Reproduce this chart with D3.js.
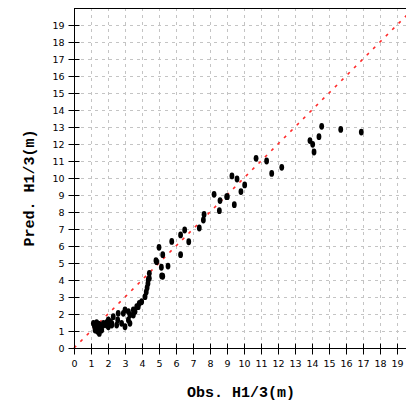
<!DOCTYPE html>
<html lang="en">
<head>
    <meta charset="UTF-8">
    <title>Obs vs Pred H1/3</title>
    <script src="https://d3js.org/d3.v7.min.js"></script>
    <style>
        body { margin: 0; background: white; }
        svg { display: block; }
        .tick-label { font-family: "DejaVu Sans", sans-serif; font-size: 9.5px; fill: black; }
        .title { font-family: "Liberation Mono", "DejaVu Sans Mono", monospace; font-size: 15px; font-weight: bold; fill: black; }
    </style>
</head>
<body>
    <svg width="406" height="404"></svg>

    <script>
        let obs = [
            1.14, 1.33, 1.43, 1.24, 1.49, 1.63, 1.73, 1.92, 2.12, 2.22, 2.02, 1.30, 1.20, 1.38, 1.55, 1.45, 1.28,
            2.31, 2.22, 2.02, 1.92, 1.73, 1.53, 1.43,
            2.60, 2.57, 2.51, 2.80, 3.00, 2.90, 3.20, 3.29, 3.49, 3.59, 3.78, 3.98, 3.84, 3.69, 3.49, 3.29, 3.20, 3.00,
            4.18, 4.25, 4.30, 4.35, 4.37, 4.43, 4.43, 4.86, 5.16, 5.22, 5.14, 5.53, 4.82, 5.22, 5.00,
            5.75, 6.27, 6.75, 6.27, 6.51, 7.37, 7.61, 7.65, 8.55, 8.24, 8.59, 9.02, 8.98, 9.43,
            9.82, 10.04, 9.59, 9.29, 10.71, 11.33, 11.63, 12.22,
            13.88, 14.04, 14.12, 14.41, 14.57, 15.69, 16.90
        ];
        let pred = [
            1.45, 1.49, 1.25, 1.06, 0.86, 1.06, 1.35, 1.49, 1.55, 1.35, 1.25, 1.20, 1.30, 0.98, 1.15, 1.40, 1.10,
            1.84, 1.45, 1.65, 1.35, 1.45, 1.35, 1.16,
            2.04, 1.65, 1.35, 1.45, 1.25, 2.04, 2.14, 1.45, 1.94, 2.14, 2.43, 2.72, 2.63, 2.43, 2.24, 1.94, 1.65, 2.24,
            3.02, 3.30, 3.55, 3.80, 4.04, 4.10, 4.39, 5.08, 4.24, 4.22, 4.75, 4.82, 5.14, 5.49, 5.92,
            6.27, 5.49, 6.25, 6.65, 6.94, 7.06, 7.53, 7.86, 8.08, 9.04, 8.67, 8.90, 8.90, 8.43,
            9.20, 9.59, 9.94, 10.12, 11.16, 11.00, 10.27, 10.63,
            12.20, 11.98, 11.53, 12.43, 13.04, 12.86, 12.70
        ];
        let ticks = d3.range(0, 20);

        let svg = d3.select("svg");
        let padLeft = 74, padTop = 8, size = 340;

        let x = d3.scaleLinear().domain([0, 20]).range([padLeft, padLeft + size]);
        let y = d3.scaleLinear().domain([0, 20]).range([padTop + size, padTop]);

        // grid
        let grid = svg.append("g").attr("stroke", "#c4c4c4").attr("stroke-dasharray", "3,4");
        grid.selectAll(".gx").data(ticks.slice(1).concat([20])).enter().append("line")
            .attr("x1", d => x(d) + 0.5).attr("x2", d => x(d) + 0.5)
            .attr("y1", padTop).attr("y2", padTop + size);
        grid.selectAll(".gy").data(ticks.slice(1)).enter().append("line")
            .attr("y1", d => y(d) + 0.5).attr("y2", d => y(d) + 0.5)
            .attr("x1", padLeft).attr("x2", padLeft + size);

        // frame
        svg.append("rect").attr("x", padLeft + 0.5).attr("y", padTop + 0.5)
            .attr("width", size).attr("height", size)
            .attr("fill", "none").attr("stroke", "black");

        // diagonal
        svg.append("line")
            .attr("x1", x(0)).attr("y1", y(0)).attr("x2", x(20)).attr("y2", y(20))
            .attr("stroke", "#ff2a2a").attr("stroke-width", 1.6).attr("stroke-dasharray", "3,6");

        // axes
        let xAxis = d3.axisBottom(x).tickValues(ticks).tickSize(5).tickFormat(d3.format("d"));
        let yAxis = d3.axisLeft(y).tickValues(ticks).tickSize(5).tickFormat(d3.format("d"));

        let gx = svg.append("g").attr("transform", `translate(0,${padTop + size + 0.5})`).call(xAxis);
        gx.select(".domain").remove();
        gx.selectAll(".tick line").attr("y1", -5).attr("y2", 6).attr("stroke", "black");
        gx.selectAll(".tick text").attr("class", "tick-label").attr("dy", "0.85em").attr("y", 10);

        let gy = svg.append("g").attr("transform", `translate(${padLeft + 0.5},0)`).call(yAxis);
        gy.select(".domain").remove();
        gy.selectAll(".tick line").attr("x1", 5).attr("x2", -6).attr("stroke", "black");
        gy.selectAll(".tick text").attr("class", "tick-label").attr("x", -10);

        // points
        svg.append("g").selectAll("ellipse")
            .data(obs.map((d, i) => [d, pred[i]]))
            .enter().append("ellipse")
            .attr("cx", d => x(d[0])).attr("cy", d => y(d[1]))
            .attr("rx", 2.4).attr("ry", 3.4).attr("fill", "black");

        // titles
        svg.append("text").attr("class", "title").attr("x", 241).attr("y", 397)
            .attr("text-anchor", "middle").text("Obs. H1/3(m)");
        svg.append("text").attr("class", "title")
            .attr("transform", "translate(34,188) rotate(-90)")
            .attr("text-anchor", "middle").text("Pred. H1/3(m)");
    </script>
</body>
</html>
